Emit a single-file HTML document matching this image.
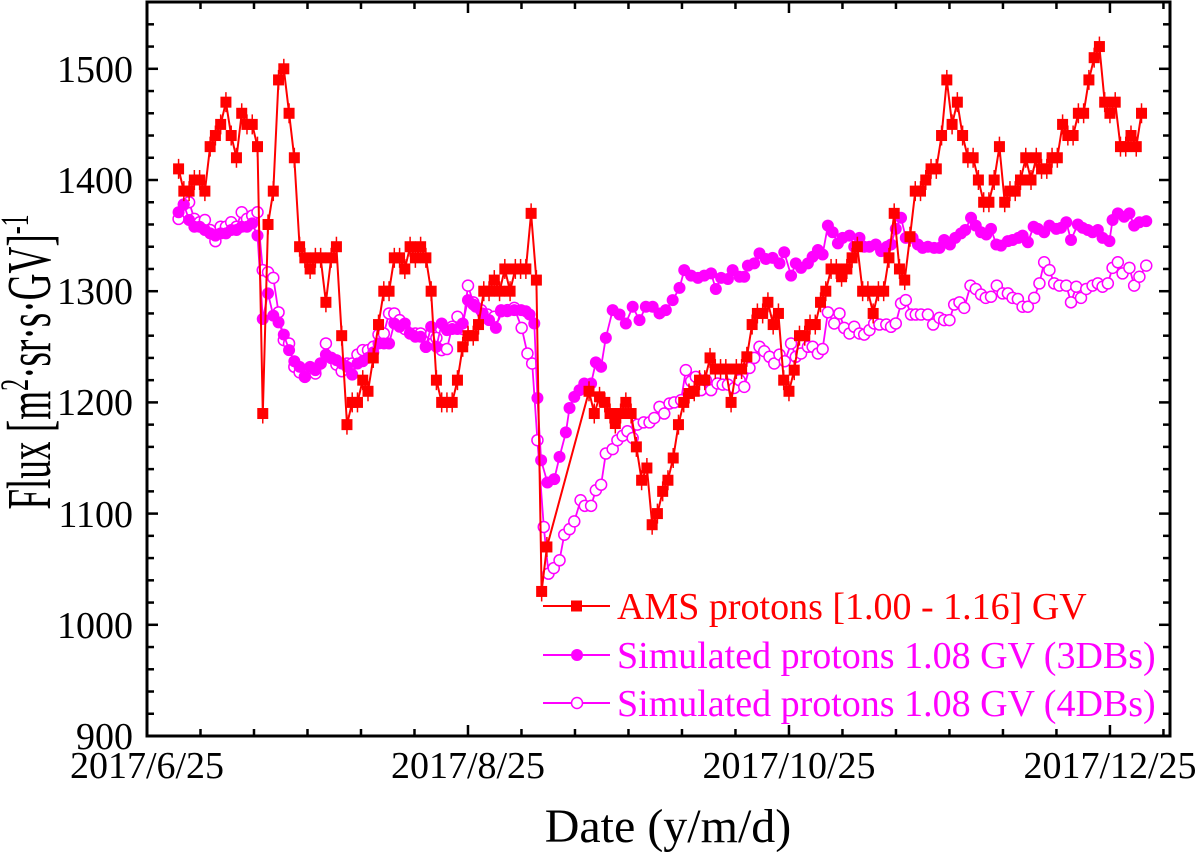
<!DOCTYPE html>
<html><head><meta charset="utf-8">
<style>
html,body{margin:0;padding:0;background:#fff;}
svg{display:block;}
</style></head>
<body>
<svg id="chart" width="1200" height="852" viewBox="0 0 1200 852" xmlns="http://www.w3.org/2000/svg" font-family="Liberation Serif, serif">
<g id="plot"></g>
<g id="axes"></g>
<g font-family="Liberation Serif, serif" font-size="38" text-anchor="end">
<text x="133" y="749">900</text>
<text x="133" y="638">1000</text>
<text x="133" y="527">1100</text>
<text x="133" y="415">1200</text>
<text x="133" y="304">1300</text>
<text x="133" y="193">1400</text>
<text x="133" y="82">1500</text>
</g>
<g font-family="Liberation Serif, serif" font-size="38" text-anchor="middle">
<text x="147" y="778">2017/6/25</text>
<text x="468" y="778">2017/8/25</text>
<text x="789" y="778">2017/10/25</text>
<text x="1110" y="778">2017/12/25</text>
</g>
<text font-family="Liberation Serif, serif" x="668" y="842" font-size="48" text-anchor="middle">Date (y/m/d)</text>
<text font-family="Liberation Serif, serif" transform="translate(50,362) rotate(-90) scale(0.6,1)" font-size="62" text-anchor="middle">Flux [m<tspan font-size="40" dy="-22">2</tspan><tspan dy="22">·sr·s·GV]</tspan><tspan font-size="40" dy="-22">-1</tspan></text>
<g id="legend"></g>
<g font-family="Liberation Serif, serif" font-size="38">
<text x="617" y="619" fill="#ff0000">AMS protons [1.00 - 1.16] GV</text>
<text x="617" y="668" fill="#ff00ff">Simulated protons 1.08 GV (3DBs)</text>
<text x="617" y="716" fill="#ff00ff">Simulated protons 1.08 GV (4DBs)</text>
</g>
</svg>
<script>
// ---- data (x = days since 2017/6/25) ----
const xTickDays = [0,61,122,183];
const yTicks = [900,1000,1100,1200,1300,1400,1500];

const amsDays = [6,7,8,9,10,11,12,13,14,15,16,17,18,19,20,21,22,23,24,25,26,27,28,29,30,31,32,33,34,35,36,37,38,39,40,41,42,43,44,45,46,47,48,49,50,51,52,53,54,55,56,57,58,59,60,61,62,63,64,65,66,67,68,69,70,71,72,73,74,75,76,
84,85,86,87,88,89,90,91,92,93,94,95,96,97,98,99,100,101,102,103,104,105,106,107,108,109,110,111,112,113,114,115,116,117,118,119,120,121,122,123,124,125,126,127,128,129,130,131,132,133,134,135,136,137,138,139,140,141,142,143,144,145,146,147,148,149,150,151,152,153,154,155,156,157,158,159,160,161,162,163,164,165,166,167,168,169,170,171,172,173,174,175,176,177,178,179,180,181,182,183,184,185,186,187,188,189];
const amsFlux = [1410,1390,1390,1400,1400,1390,1430,1440,1450,1470,1440,1420,1460,1450,1450,1430,1190,1360,1390,1490,1500,1460,1420,1340,1330,1320,1330,1330,1290,1330,1340,1260,1180,1200,1200,1220,1210,1240,1270,1300,1300,1330,1330,1320,1340,1330,1340,1330,1300,1220,1200,1200,1200,1220,1250,1260,1260,1270,1300,1300,1310,1300,1320,1300,1320,1320,1320,1370,1310,1030,1070,
1210,1190,1205,1200,1190,1181,1190,1200,1190,1160,1130,1141,1090,1100,1120,1130,1150,1180,1200,1208,1210,1220,1220,1240,1230,1230,1230,1200,1230,1230,1241,1270,1280,1280,1290,1270,1280,1220,1210,1229,1260,1260,1270,1270,1290,1300,1320,1320,1313,1320,1330,1340,1300,1300,1280,1300,1300,1330,1370,1320,1310,1349,1390,1390,1400,1410,1410,1440,1490,1450,1470,1440,1420,1420,1400,1380,1380,1400,1430,1380,1390,1390,1400,1420,1400,1420,1410,1410,1420,1420,1450,1440,1440,1460,1460,1490,1510,1520,1470,1460,1470,1430,1430,1440,1430,1460];

const sim3Days = [6,7,8,9,10,11,12,13,14,15,16,17,18,19,20,21,22,23,24,25,26,27,28,29,30,31,32,33,34,35,36,37,38,39,40,41,42,43,44,45,46,47,48,49,50,51,52,53,54,55,56,57,58,59,60,61,62,
62.5,63.8,65.0,66.3,67.3,68.5,69.8,71.1,72.0,72.7,73.6,74.2,74.9,76.1,77.4,78.4,79.6,80.3,81.2,82.2,83.1,84.4,85.3,86.3,87.2,88.5,89.8,91.0,92.3,93.6,94.8,96.1,97.4,98.6,99.9,101.2,102.1,103.4,104.7,105.9,107.2,108.1,109.1,110.4,111.3,112.6,113.5,114.2,115.4,116.4,117.6,118.9,120.2,121.1,122.4,123.3,
124.3,125.6,126.5,127.5,128.4,129.4,130.3,131.3,132.2,133.5,134.4,135.4,136.3,137.3,138.5,139.5,140.6,141.4,142.3,143.3,144.2,145.5,146.5,147.4,148.4,149.6,150.6,151.5,152.6,153.6,154.7,155.5,156.6,157.5,158.5,159.5,160.4,161.4,162.3,163.6,164.5,165.6,166.4,167.4,168.5,169.3,170.5,171.5,172.8,173.7,174.7,175.6,176.9,177.8,178.8,179.7,180.7,181.6,182.9,183.5,184.5,185.7,186.7,187.6,188.6,189.9];
const sim3Flux = [1371,1378,1364,1358,1358,1355,1352,1350,1352,1352,1355,1355,1358,1358,1361,1350,1275,1298,1278,1272,1261,1247,1237,1232,1223,1232,1229,1235,1243,1240,1238,1235,1232,1225,1235,1237,1240,1245,1253,1253,1253,1271,1268,1271,1262,1259,1259,1250,1268,1250,1271,1265,1266,1266,1271,1292,1288,
1286,1280,1274,1267,1283,1282,1283,1283,1282,1279,1271,1204,1148,1128,1131,1151,1173,1195,1205,1211,1217,1217,1236,1232,1258,1283,1279,1271,1286,1274,1286,1286,1280,1283,1292,1303,1319,1314,1312,1314,1316,1302,1312,1311,1319,1313,1313,1323,1325,1334,1329,1330,1325,1335,1314,1325,
1321,1325,1331,1337,1333,1359,1353,1343,1348,1350,1340,1348,1340,1340,1342,1336,1340,1342,1356,1366,1348,1348,1342,1339,1340,1339,1339,1346,1342,1348,1352,1355,1366,1359,1353,1351,1356,1342,1341,1345,1346,1348,1350,1344,1358,1356,1353,1359,1356,1357,1362,1346,1360,1357,1355,1353,1355,1348,1345,1364,1370,1367,1370,1359,1362,1363];

const sim4Days = [6,7,8,9,10,11,12,13,14,15,16,17,18,19,20,21,22,23,24,25,26,27,28,29,30,31,32,33,34,35,36,37,38,39,40,41,42,43,44,45,46,47,48,49,50,51,52,53,54,55,56,57,58,59,60,61,62,
63.5,64.7,66.0,67.3,68.5,69.8,71.2,72.3,73.2,74.2,75.4,76.3,77.3,78.4,79.3,80.3,81.2,82.4,83.2,84.4,85.3,86.3,87.2,88.5,89.4,90.4,91.3,92.3,93.2,94.4,95.5,96.4,97.4,98.3,99.3,100.2,101.5,102.4,103.4,104.3,105.3,106.2,107.2,108.4,109.4,110.4,111.6,112.6,113.5,114.5,115.4,116.4,117.3,118.3,119.2,120.2,121.2,122.4,123.3,
124.3,125.6,126.5,127.5,128.4,129.4,130.6,131.6,132.5,133.5,134.4,135.4,136.3,137.3,138.2,139.2,140.5,141.4,142.3,143.3,144.2,145.2,146.1,147.1,148.4,149.4,150.6,151.5,152.5,153.4,154.4,155.3,156.5,157.5,158.5,159.4,160.4,161.5,162.6,163.6,164.5,165.5,166.4,167.4,168.6,169.6,170.5,171.5,172.4,173.4,174.7,175.6,176.6,177.5,178.5,179.7,180.7,181.6,182.6,183.5,184.5,185.4,186.7,187.6,188.6,189.9];
const sim4Flux = [1365,1378,1380,1365,1362,1364,1355,1345,1358,1358,1362,1358,1371,1365,1368,1371,1319,1317,1312,1281,1256,1253,1232,1227,1223,1230,1226,1235,1253,1240,1234,1228,1235,1235,1243,1247,1247,1250,1261,1262,1280,1280,1274,1266,1262,1262,1262,1250,1262,1258,1247,1248,1268,1277,1266,1305,1290,
1283,1279,1277,1282,1283,1285,1267,1244,1235,1166,1088,1046,1051,1058,1081,1086,1093,1112,1107,1107,1121,1126,1154,1158,1166,1170,1174,1168,1180,1182,1182,1186,1196,1190,1199,1200,1202,1229,1219,1223,1211,1220,1211,1217,1216,1216,1213,1220,1214,1231,1240,1250,1246,1241,1235,1243,1237,1253,1241,
1244,1250,1250,1244,1248,1281,1271,1280,1267,1262,1268,1262,1261,1265,1271,1270,1270,1268,1271,1289,1292,1279,1279,1279,1279,1270,1276,1274,1274,1288,1290,1285,1305,1302,1297,1294,1295,1305,1298,1298,1294,1293,1286,1286,1294,1307,1326,1319,1307,1305,1305,1290,1304,1294,1302,1305,1307,1304,1307,1321,1326,1316,1321,1305,1313,1323];

// ---- geometry ----
const L=147, R=1170, T=2, B=736;
const X0=0, X1=(R-L)/5.262;
const Y0=900, Y1=900+(B-T)/1.112;
function xs(d){return L+(d-X0)/(X1-X0)*(R-L);}
function ys(v){return B-(v-Y0)/(Y1-Y0)*(B-T);}
const NS="http://www.w3.org/2000/svg";
function mk(tag,attrs,parent){const e=document.createElementNS(NS,tag);for(const k in attrs)e.setAttribute(k,attrs[k]);parent.appendChild(e);return e;}

const plot=document.getElementById('plot');
const axes=document.getElementById('axes');
const legend=document.getElementById('legend');

function line(days,vals,color,w,name){
  const p=mk('polyline',{points:days.map((d,i)=>xs(d).toFixed(1)+','+ys(vals[i]).toFixed(1)).join(' '),fill:'none',stroke:color,'stroke-width':w},plot);
  
  
}
line(sim4Days,sim4Flux,'#ff00ff',1.8,'series-4dbs-line');
sim4Days.forEach((d,i)=>{
  const c=mk('circle',{cx:xs(d),cy:ys(sim4Flux[i]),r:5.5,fill:'#fff',stroke:'#ff00ff','stroke-width':1.5},plot);
  
  
});
line(sim3Days,sim3Flux,'#ff00ff',1.8,'series-3dbs-line');
sim3Days.forEach((d,i)=>{
  const c=mk('circle',{cx:xs(d),cy:ys(sim3Flux[i]),r:6,fill:'#ff00ff'},plot);
  
  
});
line(amsDays,amsFlux,'#ff0000',2,'series-ams-line');
amsDays.forEach((d,i)=>{
  const x=xs(d),y=ys(amsFlux[i]);
  const eb=mk('line',{x1:x,x2:x,y1:y-10,y2:y+10,stroke:'#ff0000','stroke-width':1.5},plot);
  
  
  const s=mk('rect',{x:x-5.5,y:y-5.5,width:11,height:11,fill:'#ff0000'},plot);
  
  
});

// ---- axes ----
const frame=mk('rect',{x:L,y:T,width:R-L,height:B-T,fill:'none',stroke:'#000','stroke-width':3},axes);


for(let v=900; v<=Y1; v+=20){
  const y=ys(v); const major=(v%100===0);
  const len=major?11:7;
  mk('line',{x1:L,x2:L+len,y1:y,y2:y,stroke:'#000','stroke-width':2.5},axes);
  mk('line',{x1:R,x2:R-len,y1:y,y2:y,stroke:'#000','stroke-width':2.5},axes);
}
for(let k=0; xs(k*61/6)<=R; k++){
  const x=xs(k*61/6);
  const len=(k%6===0)?11:7;
  mk('line',{x1:x,x2:x,y1:B,y2:B-len,stroke:'#000','stroke-width':2.5},axes);
  mk('line',{x1:x,x2:x,y1:T,y2:T+len,stroke:'#000','stroke-width':2.5},axes);
}

// ---- legend markers ----
const legY=[606,655,703];
const legColors=['#ff0000','#ff00ff','#ff00ff'];
legY.forEach((y,i)=>{
  const g=mk('g',{},legend);
  
  
  mk('line',{x1:543,x2:610,y1:y,y2:y,stroke:legColors[i],'stroke-width':2},g);
  if(i===0) mk('rect',{x:571,y:y-5.5,width:11,height:11,fill:legColors[i]},g);
  else if(i===1) mk('circle',{cx:577,cy:y,r:6,fill:legColors[i]},g);
  else mk('circle',{cx:577,cy:y,r:5.5,fill:'#fff',stroke:legColors[i],'stroke-width':1.5},g);
});
</script>
</body></html>
